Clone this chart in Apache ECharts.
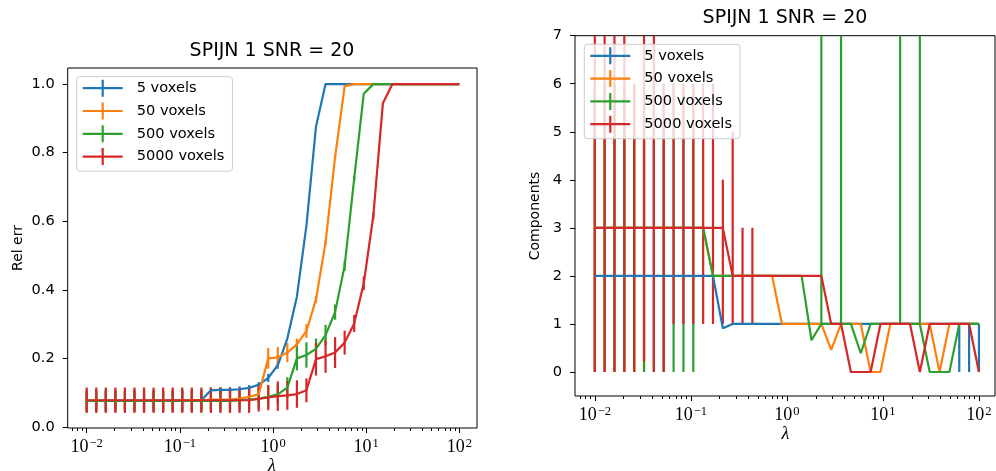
<!DOCTYPE html>
<html>
<head>
<meta charset="utf-8">
<script src="https://cdn.jsdelivr.net/npm/echarts@6/dist/echarts.min.js"></script>
<style>
html, body { margin: 0; padding: 0; background: #fff; }
#chart { width: 996px; height: 471px; }
</style>
</head>
<body>
<div id="chart"></div>
<script>
// Regularisation weights (40 log-spaced values from 1e-2 to 1e2)
const lambdas = [0.01, 0.01266, 0.01603, 0.02031, 0.02572, 0.03257, 0.04125, 0.05223, 0.06615, 0.08377,
  0.1061, 0.1344, 0.1701, 0.2154, 0.2728, 0.3455, 0.4375, 0.5541, 0.7017, 0.8886,
  1.125, 1.425, 1.805, 2.285, 2.894, 3.665, 4.642, 5.878, 7.444, 9.427,
  11.94, 15.12, 19.15, 24.24, 30.70, 38.88, 49.24, 62.36, 78.97, 100];

const seriesNames = ['5 voxels', '50 voxels', '500 voxels', '5000 voxels'];
const seriesColors = ['#1f77b4', '#ff7f0e', '#2ca02c', '#d62728'];
const plotTitle = 'SPIJN 1 SNR = 20';
const majorTicks = [0.01, 0.1, 1, 10, 100];
const relErrTicks = [0, 0.2, 0.4, 0.6, 0.8, 1.0];
const compTicks = [0, 1, 2, 3, 4, 5, 6, 7];

// Relative error: mean and symmetric error per lambda
const relErr5 = [0.076, 0.076, 0.076, 0.076, 0.076, 0.076, 0.076, 0.076, 0.076, 0.076,
  0.076, 0.076, 0.078, 0.107, 0.108, 0.108, 0.110, 0.114, 0.123, 0.143,
  0.180, 0.258, 0.380, 0.587, 0.876, 1.0, 1.0, 1.0, 1.0, 1.0,
  1.0, 1.0, 1.0, 1.0, 1.0, 1.0, 1.0, 1.0, 1.0, 1.0];
const relErr5Err = [0.03, 0.03, 0.03, 0.03, 0.03, 0.03, 0.03, 0.03, 0.03, 0.03,
  0.03, 0.03, 0.03, 0.008, 0.008, 0.008, 0.008, 0.008, 0.008, 0.012,
  0.01, 0, 0, 0, 0, 0, 0, 0, 0, 0,
  0, 0, 0, 0, 0, 0, 0, 0, 0, 0];

const relErr50 = [0.076, 0.076, 0.076, 0.076, 0.076, 0.076, 0.076, 0.076, 0.076, 0.076,
  0.078, 0.078, 0.078, 0.080, 0.080, 0.080, 0.083, 0.088, 0.095, 0.200,
  0.203, 0.217, 0.241, 0.280, 0.372, 0.538, 0.787, 0.994, 1.0, 1.0,
  1.0, 1.0, 1.0, 1.0, 1.0, 1.0, 1.0, 1.0, 1.0, 1.0];
const relErr50Err = [0.03, 0.03, 0.03, 0.03, 0.03, 0.03, 0.03, 0.03, 0.03, 0.03,
  0.03, 0.03, 0.03, 0.03, 0.03, 0.03, 0.025, 0.025, 0.025, 0.03,
  0.03, 0.028, 0.017, 0.02, 0.01, 0.008, 0.005, 0, 0, 0,
  0, 0, 0, 0, 0, 0, 0, 0, 0, 0];

const relErr500 = [0.076, 0.076, 0.076, 0.076, 0.076, 0.076, 0.076, 0.076, 0.076, 0.076,
  0.076, 0.076, 0.076, 0.076, 0.076, 0.076, 0.078, 0.080, 0.083, 0.088,
  0.095, 0.115, 0.200, 0.210, 0.228, 0.268, 0.335, 0.470, 0.725, 0.972,
  1.0, 1.0, 1.0, 1.0, 1.0, 1.0, 1.0, 1.0, 1.0, 1.0];
const relErr500Err = [0.03, 0.03, 0.03, 0.03, 0.03, 0.03, 0.03, 0.03, 0.03, 0.03,
  0.03, 0.03, 0.03, 0.03, 0.03, 0.03, 0.03, 0.03, 0.03, 0.03,
  0.03, 0.03, 0.035, 0.037, 0.03, 0.03, 0.022, 0.015, 0.008, 0,
  0, 0, 0, 0, 0, 0, 0, 0, 0, 0];

const relErr5000 = [0.078, 0.078, 0.078, 0.078, 0.078, 0.078, 0.078, 0.078, 0.078, 0.078,
  0.078, 0.078, 0.078, 0.078, 0.078, 0.078, 0.078, 0.078, 0.082, 0.086,
  0.090, 0.092, 0.096, 0.107, 0.198, 0.206, 0.217, 0.246, 0.302, 0.419,
  0.616, 0.944, 1.0, 1.0, 1.0, 1.0, 1.0, 1.0, 1.0, 1.0];
const relErr5000Err = [0.037, 0.037, 0.037, 0.037, 0.037, 0.037, 0.037, 0.037, 0.037, 0.037,
  0.037, 0.037, 0.037, 0.037, 0.037, 0.037, 0.037, 0.037, 0.037, 0.037,
  0.043, 0.042, 0.040, 0.035, 0.048, 0.048, 0.045, 0.035, 0.025, 0.02,
  0.01, 0, 0, 0, 0, 0, 0, 0, 0, 0];

// Number of components: central value and bar ends (null = no bar)
const comp5 = [2, 2, 2, 2, 2, 2, 2, 2, 2, 2,
  2, 2, 2, 0.91, 1, 1, 1, 1, 1, 1,
  1, 1, 1, 1, 1, 1, 1, 1, 1, 1,
  1, 1, 1, 1, 1, 1, 1, 1, 1, 1];
const comp5Lo = [null, null, null, null, null, null, null, null, null, null,
  null, null, null, null, null, null, null, null, null, null,
  null, null, null, null, null, null, null, null, null, null,
  null, null, null, null, null, null, null, 0, 0, 0];
const comp5Hi = [null, null, null, null, null, null, null, null, null, null,
  null, null, null, null, null, null, null, null, null, null,
  null, null, null, null, null, null, null, null, null, null,
  null, null, null, null, null, null, null, 1, 1, 1];

const comp50 = [3, 3, 3, 3, 3, 3, 3, 3, 3, 3,
  3, 3, 2, 2, 2, 2, 2, 2, 2, 1,
  1, 1, 1, 1, 0.46, 1, 1, 1, 0, 0,
  1, 1, 1, 1, 1, 0, 1, 1, 1, 1];
const comp50Lo = [0, 0, 0, 0, 0, 0, 0, 0, null, null,
  null, null, null, null, null, null, null, null, null, null,
  null, null, null, null, null, null, null, null, null, null,
  null, null, null, null, null, null, null, null, null, null];
const comp50Hi = [6, 6, 6, 6, 6, 6, 6, 6, null, null,
  null, null, null, null, null, null, null, null, null, null,
  null, null, null, null, null, null, null, null, null, null,
  null, null, null, null, null, null, null, null, null, null];

const comp500 = [3, 3, 3, 3, 3, 3, 3, 3, 3, 3,
  3, 3, 2, 2, 2, 2, 2, 2, 2, 2,
  2, 2, 0.66, 1, 1, 1, 1, 0.39, 1, 1,
  1, 1, 1, 1, 0, 0, 0, 1, 1, 1];
const comp500Lo = [0, 0, 0, 0, 0, 0, 0, 0, 0, 0,
  0, null, null, null, null, null, null, null, null, null,
  null, null, null, 1, null, 1, null, null, null, null,
  null, 1, null, 1, null, null, null, null, null, null];
const comp500Hi = [6, 6, 6, 6, 6, 6, 6, 6, 6, 6,
  6, null, null, null, null, null, null, null, null, null,
  null, null, null, 9, null, 9, null, null, null, null,
  null, 9, null, 9, null, null, null, null, null, null];

const comp5000 = [3, 3, 3, 3, 3, 3, 3, 3, 3, 3,
  3, 3, 3, 3, 2, 2, 2, 2, 2, 2,
  2, 2, 2, 2, 1, 1, 0, 0, 0, 1,
  1, 1, 1, 0, 1, 1, 1, 1, 1, 0];
const comp5000Lo = [0, 0, 0, 0, 0, 0.22, 0, 0, 1, 1,
  1, 1, 1, 1, 1, 1, 1, null, null, null,
  null, null, null, null, null, null, null, null, null, null,
  null, null, null, null, null, null, null, null, null, null];
const comp5000Hi = [9, 9, 9, 9, 6, 9, 9, 6, 6, 6,
  6, 6, 6, 4, 5, 3, 3, null, null, null,
  null, null, null, null, null, null, null, null, null, null,
  null, null, null, null, null, null, null, null, null, null];

const relErrSets = [
  [relErr5, relErr5Err], [relErr50, relErr50Err], [relErr500, relErr500Err], [relErr5000, relErr5000Err]
];
const compSets = [
  [comp5, comp5Lo, comp5Hi], [comp50, comp50Lo, comp50Hi], [comp500, comp500Lo, comp500Hi], [comp5000, comp5000Lo, comp5000Hi]
];

// minor log ticks at 2..9 x 10^k
const minorTicks = [];
[0.001, 0.01, 0.1, 1, 10, 100].forEach(function (d) {
  for (let m = 2; m <= 9; m++) minorTicks.push(+(m * d).toPrecision(3));
});

const SANS = 'DejaVu Sans';
const SERIF = 'Liberation Serif';
const LINE_W = 2.2;
const BODY_PX = 14.6;

function powLabel(v) {
  const e = Math.round(Math.log10(v));
  return '{b|10}{s|' + (e < 0 ? '\u2212' + (-e) : String(e)) + '}';
}

function logAxes(gridIndex, lo, hi) {
  const range = { type: 'log', logBase: 10, gridIndex: gridIndex, position: 'bottom', min: Math.pow(10, lo), max: Math.pow(10, hi) };
  return [
    Object.assign({}, range, {
      axisLine: { show: false, onZero: false },
      splitLine: { show: false },
      axisTick: { show: true, customValues: majorTicks, length: 5, lineStyle: { color: '#000', width: 1 } },
      axisLabel: {
        customValues: majorTicks, margin: 9, formatter: powLabel,
        rich: {
          b: { fontFamily: SERIF, fontSize: 18, color: '#000', lineHeight: 21 },
          s: { fontFamily: SERIF, fontSize: 12.5, color: '#000', lineHeight: 12, verticalAlign: 'top', padding: [0, 0, 3, 1] }
        }
      }
    }),
    Object.assign({}, range, {
      axisLine: { show: false, onZero: false },
      splitLine: { show: false },
      axisTick: { show: true, customValues: minorTicks, length: 3, lineStyle: { color: '#000', width: 1 } },
      axisLabel: { show: false }
    })
  ];
}

function valueAxis(gridIndex, min, max, ticks, fmt) {
  return {
    type: 'value', gridIndex: gridIndex, min: min, max: max,
    axisLine: { show: false, onZero: false },
    splitLine: { show: false },
    axisTick: { show: true, customValues: ticks, length: 5, lineStyle: { color: '#000', width: 1 } },
    axisLabel: { customValues: ticks, formatter: fmt, margin: 13, fontFamily: SANS, fontSize: BODY_PX, color: '#000' }
  };
}

function errorBarSeries(name, color, xIdx, yIdx, points) {
  return {
    type: 'custom', name: name, xAxisIndex: xIdx, yAxisIndex: yIdx,
    clip: true, silent: true, animation: false, z: 2,
    itemStyle: { color: color },
    encode: { x: 0, y: [1, 2] },
    data: points,
    renderItem: function (params, api) {
      const x = api.value(0);
      const p1 = api.coord([x, api.value(1)]);
      const p2 = api.coord([x, api.value(2)]);
      return {
        type: 'line',
        shape: { x1: p1[0], y1: p1[1], x2: p2[0], y2: p2[1] },
        style: { stroke: color, lineWidth: LINE_W }
      };
    }
  };
}

function lineSeries(name, color, xIdx, yIdx, values) {
  return {
    type: 'line', name: name, xAxisIndex: xIdx, yAxisIndex: yIdx,
    data: lambdas.map(function (x, i) { return [x, values[i]]; }),
    symbol: 'none', showSymbol: false, animation: false, silent: true, z: 2,
    itemStyle: { color: color },
    lineStyle: { color: color, width: LINE_W }
  };
}

const series = [];
seriesNames.forEach(function (name, k) {
  const color = seriesColors[k];
  const vals = relErrSets[k][0], errs = relErrSets[k][1];
  series.push(lineSeries(name, color, 0, 0, vals));
  const pts = [];
  lambdas.forEach(function (x, i) { if (errs[i] > 0) pts.push([x, vals[i] - errs[i], vals[i] + errs[i]]); });
  series.push(errorBarSeries(name, color, 0, 0, pts));
});
seriesNames.forEach(function (name, k) {
  const color = seriesColors[k];
  const vals = compSets[k][0], lo = compSets[k][1], hi = compSets[k][2];
  series.push(lineSeries(name, color, 2, 1, vals));
  const pts = [];
  lambdas.forEach(function (x, i) { if (lo[i] !== null && hi[i] !== null) pts.push([x, lo[i], hi[i]]); });
  series.push(errorBarSeries(name, color, 2, 1, pts));
});

const crossIcon = 'path://M0,7.4 L40,7.4 L40,9.6 L0,9.6 Z M18.9,0 L21.1,0 L21.1,17 L18.9,17 Z';

function legendAt(left, top) {
  return {
    orient: 'vertical', left: left, top: top,
    itemWidth: 40, itemHeight: 17, itemGap: 5.8,
    padding: [3, 8, 6, 6],
    backgroundColor: 'rgba(255,255,255,0.8)',
    borderColor: '#cccccc', borderWidth: 1, borderRadius: 3,
    selectedMode: false,
    itemStyle: { borderWidth: 0 },
    textStyle: { fontFamily: SANS, fontSize: BODY_PX, color: '#000', padding: [0, 0, 0, 9] },
    data: seriesNames.map(function (n) { return { name: n, icon: crossIcon }; })
  };
}

function label(text, x, y, font, rot) {
  return {
    type: 'text', x: x, y: y, rotation: rot || 0, silent: true,
    style: { text: text, font: font, fill: '#000', align: 'center', verticalAlign: 'middle' }
  };
}

const chart = echarts.init(document.getElementById('chart'), null, { renderer: 'canvas' });
chart.setOption({
  backgroundColor: '#ffffff',
  animation: false,
  grid: [
    { left: 67.7, top: 68, width: 409.3, height: 360, show: true, borderColor: '#000', borderWidth: 1, backgroundColor: 'transparent' },
    { left: 575, top: 35.7, width: 420, height: 360.3, show: true, borderColor: '#000', borderWidth: 1, backgroundColor: 'transparent' }
  ],
  xAxis: logAxes(0, -2.204, 2.19).concat(logAxes(1, -2.206, 2.167)),
  yAxis: [
    valueAxis(0, -0.003, 1.047, relErrTicks, function (v) { return v.toFixed(1); }),
    valueAxis(1, -0.5, 7, compTicks, function (v) { return String(v); })
  ],
  legend: [legendAt(76.7, 76.7), legendAt(584.3, 44.3)],
  graphic: [
    label(plotTitle, 272, 51.5, '19px "DejaVu Sans"'),
    label(plotTitle, 785, 18, '19px "DejaVu Sans"'),
    label('Rel err', 18.5, 248, '14px "DejaVu Sans"', Math.PI / 2),
    label('Components', 535, 216, '14px "DejaVu Sans"', Math.PI / 2),
    label('\u03bb', 272, 466, 'italic 18px "Liberation Serif"'),
    label('\u03bb', 785.5, 434.5, 'italic 18px "Liberation Serif"')
  ],
  series: series
});
</script>
</body>
</html>
